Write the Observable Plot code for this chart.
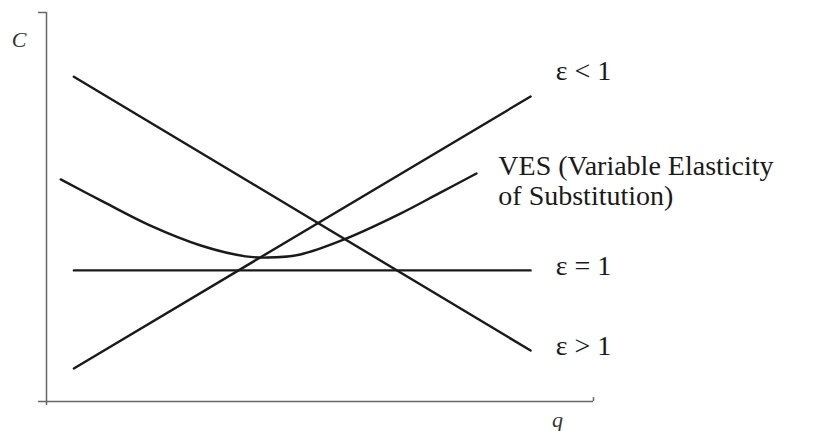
<!DOCTYPE html>
<html>
<head>
<meta charset="utf-8">
<script src="https://cdn.jsdelivr.net/npm/d3@7"></script>
<script src="https://cdn.jsdelivr.net/npm/@observablehq/plot@0.6"></script>
<style>
  html, body { margin: 0; padding: 0; background: #fff; }
  #chart svg { display: block; }
</style>
</head>
<body>
<div id="chart"></div>
<script>
// Straight cost curves: q at both ends, C at both ends
const lineQ = [0.5, 8.85];
const epsLess = [0.85, 7.84];    // ε < 1 (rising)
const epsGreater = [8.35, 1.31]; // ε > 1 (falling)
const epsUnit = [3.37, 3.37];    // ε = 1 (flat)

// VES curve
const vesQ = [0.26, 0.99, 1.90, 2.82, 3.64, 4.04, 4.64, 5.43, 6.47, 7.20, 7.86];
const vesC = [5.71, 5.17, 4.52, 4.01, 3.73, 3.70, 3.78, 4.16, 4.83, 5.37, 5.86];

// Curve labels
const labelText = ["ε < 1", "VES (Variable Elasticity\nof Substitution)", "ε = 1", "ε > 1"];
const labelQ = [9.31, 8.26, 9.31, 9.31];
const labelC = [8.51, 5.68, 3.50, 1.44];

// Axis titles
const axisText = ["C", "q"];
const axisQ = [-0.5, 9.34];
const axisC = [9.30, -0.47];

const toPts = (qs, cs, name) => qs.map((q, i) => ({q, c: cs[i], name}));
const lines = [
  ...toPts(lineQ, epsLess, "less"),
  ...toPts(lineQ, epsGreater, "greater"),
  ...toPts(lineQ, epsUnit, "unit")
];
const ves = toPts(vesQ, vesC, "ves");
const labels = labelText.map((t, i) => ({t, q: labelQ[i], c: labelC[i]}));
const axisLabels = axisText.map((t, i) => ({t, q: axisQ[i], c: axisC[i]}));

const serif = "'Liberation Serif', 'Times New Roman', serif";
const axisColor = "#666";
const ink = "#1a1a1a";

const chart = Plot.plot({
  width: 816,
  height: 431,
  margin: 0,
  marginLeft: 46,
  marginRight: 223,
  marginTop: 12,
  marginBottom: 30,
  x: {domain: [0, 10], axis: null},
  y: {domain: [0, 10], axis: null},
  style: {background: "#fff", overflow: "visible"},
  marks: [
    // axes
    Plot.ruleX([0], {y1: -0.1, y2: 10, stroke: axisColor, strokeWidth: 1.5}),
    Plot.ruleY([0], {x1: -0.146, x2: 10, stroke: axisColor, strokeWidth: 1.5}),
    Plot.ruleY([10], {x1: -0.146, x2: 0, stroke: axisColor, strokeWidth: 1.5}),
    Plot.ruleX([10], {y1: 0, y2: 0.1, stroke: axisColor, strokeWidth: 1.5}),
    // curves
    Plot.line(lines, {x: "q", y: "c", z: "name", stroke: ink, strokeWidth: 2.4}),
    Plot.line(ves, {x: "q", y: "c", curve: "catmull-rom", stroke: ink, strokeWidth: 2.4}),
    // labels
    Plot.text(labels, {x: "q", y: "c", text: "t", textAnchor: "start", fontSize: 28, lineHeight: 1.05,
      fontFamily: serif, fill: ink}),
    Plot.text(axisLabels, {x: "q", y: "c", text: "t", fontSize: 22, fontStyle: "italic",
      fontFamily: serif, fill: "#333"})
  ]
});
document.getElementById("chart").appendChild(chart);
</script>
</body>
</html>
